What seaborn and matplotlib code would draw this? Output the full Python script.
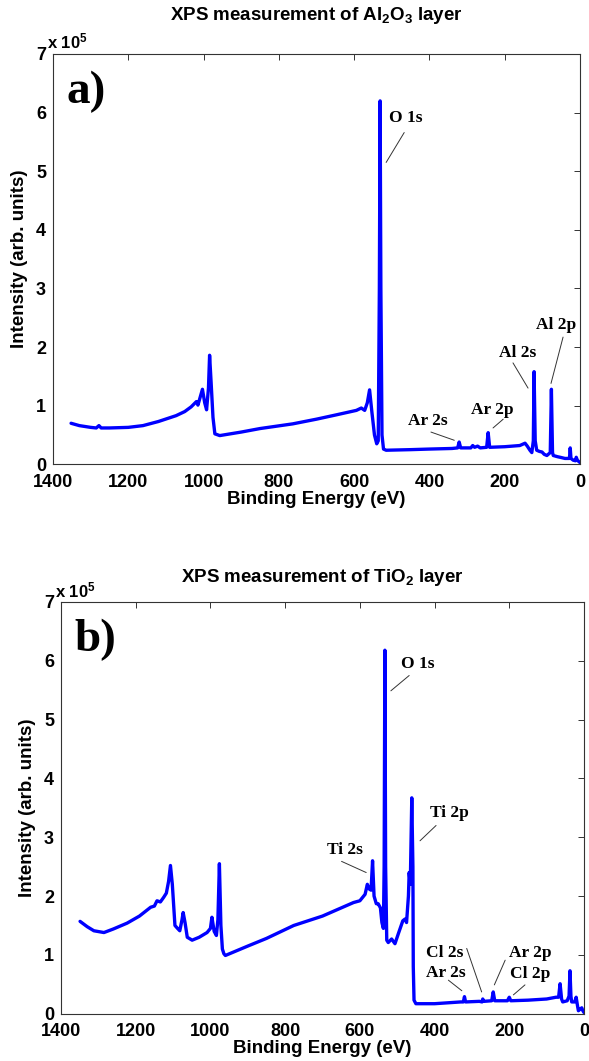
import numpy as np
import pandas as pd
import matplotlib
matplotlib.use("Agg")
import matplotlib.pyplot as plt
import seaborn as sns

# ---------------- data (intensity in units of 1e5 counts) ----------------
al_energy = [1352, 1330, 1300, 1285, 1278, 1272, 1250, 1200, 1161, 1120, 1073, 1050,
             1033, 1019, 1015, 1003, 997, 992, 987, 984, 980, 975, 970, 957, 900, 850,
             763, 700, 650, 594, 581, 572, 565, 559, 553, 546, 540, 536, 533, 531, 529,
             526, 522, 515, 450, 400, 340, 325, 321, 317, 290, 285, 280, 272, 265, 248,
             244, 240, 200, 160, 146, 140, 133, 128, 124, 122, 119, 115, 108, 101, 95,
             88, 79, 76, 73, 71, 60, 53, 40, 32, 28, 26, 24, 18, 12, 10, 7, 2, 0]
al_intensity = [0.70, 0.66, 0.63, 0.62, 0.66, 0.62, 0.62, 0.63, 0.66, 0.73, 0.83, 0.90,
                0.98, 1.07, 1.01, 1.28, 1.05, 0.93, 1.30, 1.86, 1.40, 0.80, 0.52, 0.49, 0.55, 0.61,
                0.69, 0.77, 0.84, 0.92, 0.96, 0.92, 1.05, 1.27, 0.90, 0.50, 0.35, 0.40, 3.00, 6.20, 3.00,
                0.50, 0.26, 0.24, 0.25, 0.26, 0.27, 0.28, 0.38, 0.28, 0.28, 0.32, 0.29, 0.31, 0.28, 0.29,
                0.54, 0.29, 0.30, 0.32, 0.36, 0.31, 0.24, 0.20, 0.40, 1.58, 0.40, 0.24, 0.22, 0.21, 0.17,
                0.15, 0.20, 1.28, 0.20, 0.15, 0.13, 0.12, 0.10, 0.10, 0.10, 0.28, 0.10, 0.07, 0.06, 0.12, 0.07, 0.04, 0.03]

ti_energy = [1349, 1330, 1312, 1285, 1260, 1223, 1190, 1160, 1150, 1143, 1134, 1125,
             1118, 1112, 1107, 1102, 1095, 1088, 1082, 1076, 1073, 1068, 1062, 1049, 1030,
             1009, 1000, 996, 990, 984, 980, 976, 972, 968, 964, 960, 900, 850, 777, 700,
             617, 600, 586, 580, 575, 570, 566, 562, 556, 551, 545, 541, 537, 535, 533, 531,
             528, 524, 515, 506, 497, 485, 479, 475, 470, 468, 465, 461, 458, 457, 455, 450,
             400, 330, 323, 320, 317, 280, 273, 271, 268, 247, 243, 239, 205, 200, 196, 150,
             100, 75, 68, 64, 60, 57, 45, 40, 37.5, 35, 33, 25, 21, 17, 15, 10, 6, 3, 0]
ti_intensity = [1.57, 1.48, 1.41, 1.38, 1.44, 1.54, 1.66, 1.81, 1.83, 1.92, 1.90, 1.98,
                2.05, 2.25, 2.52, 2.20, 1.50, 1.45, 1.41, 1.60, 1.72, 1.55, 1.30, 1.25, 1.30,
                1.38, 1.45, 1.64, 1.40, 1.33, 1.60, 2.55, 1.50, 1.10, 1.02, 0.99, 1.15, 1.28, 1.50, 1.66,
                1.89, 1.92, 2.03, 2.20, 2.12, 2.10, 2.60, 2.00, 1.87, 1.87, 1.80, 1.55, 1.45, 2.50, 6.18, 2.50,
                1.25, 1.21, 1.27, 1.19, 1.36, 1.58, 1.61, 1.55, 2.00, 2.40, 2.20, 3.67, 2.50, 0.80, 0.23, 0.17,
                0.17, 0.20, 0.20, 0.29, 0.20, 0.21, 0.20, 0.25, 0.21, 0.22, 0.37, 0.22, 0.22, 0.28, 0.22, 0.23,
                0.25, 0.28, 0.28, 0.51, 0.25, 0.20, 0.22, 0.30, 0.73, 0.30, 0.20, 0.20, 0.28, 0.12, 0.05, 0.08, 0.10, 0.05, 0.02]

x_ticks = [1400, 1200, 1000, 800, 600, 400, 200, 0]
y_ticks = [0, 1, 2, 3, 4, 5, 6, 7]

titles = [r"XPS measurement of Al$_2$O$_3$ layer", r"XPS measurement of TiO$_2$ layer"]
panel_tags = ["a)", "b)"]

# peak labels: (text, text_x, text_y, line_x0, line_y0, line_x1, line_y1) in data units
al_labels = [("O 1s", 463, 5.91, 467, 5.66, 515, 5.15),
             ("Ar 2s", 405, 0.74, 396, 0.55, 334, 0.41),
             ("Ar 2p", 232, 0.92, 204, 0.77, 231, 0.62),
             ("Al 2s", 166, 1.90, 178, 1.73, 138, 1.30),
             ("Al 2p", 64, 2.37, 45, 2.17, 77, 1.38)]
ti_labels = [("O 1s", 444, 5.94, 468, 5.75, 517, 5.49),
             ("Ti 2p", 359, 3.42, 396, 3.20, 439, 2.94),
             ("Ti 2s", 640, 2.79, 649, 2.59, 583, 2.40),
             ("Cl 2s", 372, 1.04, 314, 1.11, 274, 0.37),
             ("Ar 2s", 371, 0.70, 363, 0.57, 327, 0.39),
             ("Ar 2p", 145, 1.04, 211, 0.91, 240, 0.49),
             ("Cl 2p", 143, 0.68, 158, 0.49, 189, 0.32)]

# ---------------- style ----------------
sns.set_theme(style="white")
plt.rcParams["font.family"] = ["Liberation Sans", "DejaVu Sans"]
plt.rcParams["font.weight"] = "bold"
plt.rcParams["text.color"] = "black"
plt.rcParams["axes.labelcolor"] = "black"
plt.rcParams["mathtext.fontset"] = "custom"
plt.rcParams["mathtext.rm"] = "Liberation Sans:bold"
plt.rcParams["mathtext.it"] = "Liberation Sans:bold"
plt.rcParams["mathtext.bf"] = "Liberation Sans:bold"

W, H = 589, 1061
fig = plt.figure(figsize=(W / 100, H / 100), dpi=100)

# axes boxes in pixels: left, right, top, bottom
boxes = [(53, 580, 54, 464.3), (61, 584, 602, 1013.7)]
series = [(al_energy, al_intensity, al_labels), (ti_energy, ti_intensity, ti_labels)]
title_y = [16, 578]
expo_y = [41, 590]
expo_x = [47, 55]

for i, ((l, r, t, b), (ex, iy, labels)) in enumerate(zip(boxes, series)):
    ax = fig.add_axes([l / W, 1 - b / H, (r - l) / W, (b - t) / H])
    df = pd.DataFrame({"Binding Energy (eV)": ex, "Intensity": iy})
    sns.lineplot(data=df, x="Binding Energy (eV)", y="Intensity", ax=ax,
                 color="#0000ff", lw=2.4, estimator=None, sort=False)
    ax.set_xlim(1400, 0)
    ax.set_ylim(0, 7)
    ax.set_xticks(x_ticks)
    ax.set_yticks(y_ticks)
    ax.set_xticklabels([str(v) for v in x_ticks])
    ax.set_yticklabels([str(v) for v in y_ticks])
    ax.tick_params(direction="in", length=4.5, width=0.7, color="#333333",
                   labelcolor="black", top=True, right=True, labelsize=13)
    ax.tick_params(axis="x", pad=7)
    ax.tick_params(axis="y", pad=5)
    for lab in ax.get_xticklabels() + ax.get_yticklabels():
        lab.set_fontweight("bold")
    for sp in ax.spines.values():
        sp.set_color("#333333")
        sp.set_linewidth(0.8)
    ax.set_xlabel("Binding Energy (eV)", fontsize=13.5, fontweight="bold", labelpad=0)
    ax.set_ylabel("Intensity (arb. units)", fontsize=13.5, fontweight="bold", labelpad=6)

    # title and exponent label
    fig.text((l + r) / 2 / W, 1 - title_y[i] / H, titles[i], ha="center", va="center",
             fontsize=13.5, fontweight="bold", color="black")
    fig.text(expo_x[i] / W, 1 - expo_y[i] / H, r"x 10$^5$", ha="left", va="center",
             fontsize=12, fontweight="bold", color="black")

    # panel tag
    ax.text(0.025, 0.908, panel_tags[i], transform=ax.transAxes, ha="left", va="center",
            fontsize=34, fontweight="bold", family="Liberation Serif", color="black")

    # peak labels
    for txt, tx, ty, x0, y0, x1, y1 in labels:
        ax.text(tx, ty, txt, ha="center", va="center", fontsize=12.5,
                fontweight="bold", family="Liberation Serif", color="black")
        ax.plot([x0, x1], [y0, y1], color="#333333", lw=0.7)

fig.savefig("out.png", dpi=100)
